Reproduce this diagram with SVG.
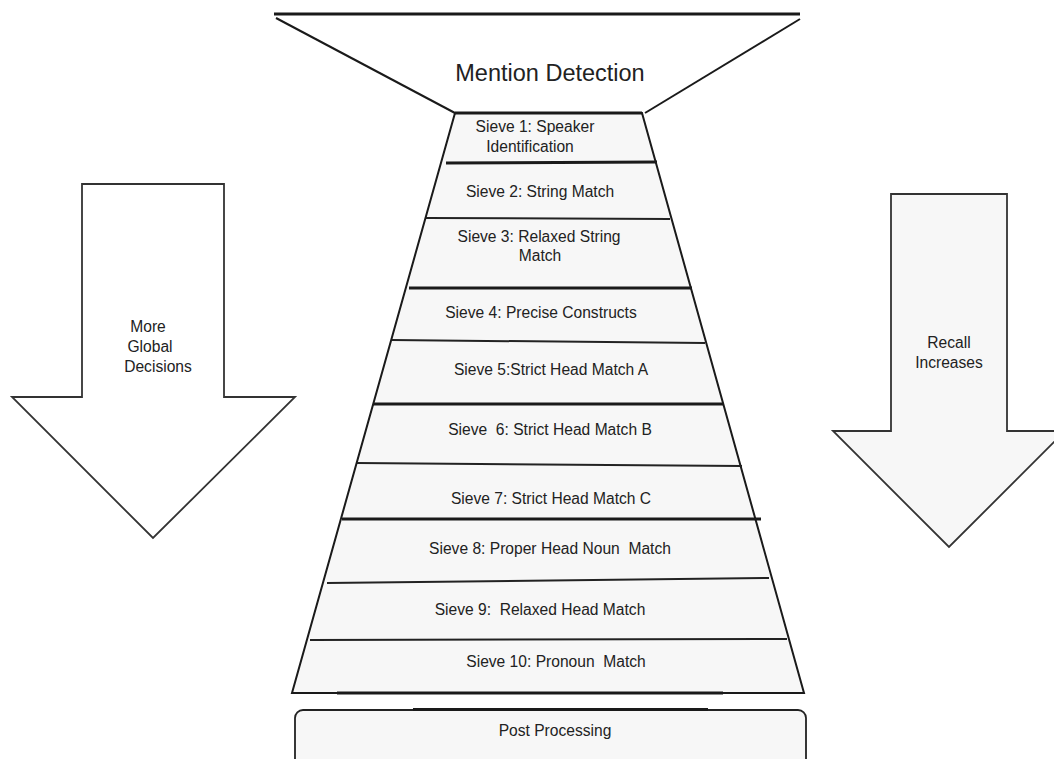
<svg xmlns="http://www.w3.org/2000/svg" width="1054" height="759" viewBox="0 0 1054 759">
<style>
.t{font-family:"Liberation Sans",Arial,sans-serif;font-size:15.6px;fill:#222;text-anchor:middle}
.thick{stroke:#1a1a1a;stroke-width:3;fill:none}
.thin{stroke:#222;stroke-width:2;fill:none}
.edge{stroke:#1a1a1a;stroke-width:2;fill:none}
.arr{stroke:#333;stroke-width:1.8;stroke-linejoin:miter}
</style>
<rect width="1054" height="759" fill="#fff"/>
<g id="funnel">
<line x1="274" y1="14" x2="800" y2="14" class="thick"/>
<line x1="276" y1="18" x2="455" y2="113" class="edge"/>
<line x1="645" y1="113" x2="800" y2="19" class="edge"/>
<text x="550" y="81" class="t" style="font-size:23.5px">Mention Detection</text>
</g>
<g id="sieves">
<polygon points="455,113 642,113 804,693 292,693" fill="#f7f7f7" stroke="#1a1a1a" stroke-width="2"/>
<line x1="455" y1="113" x2="642" y2="113" class="thick"/>
<line x1="337" y1="693" x2="723" y2="693" class="thick"/>
<line x1="446" y1="163" x2="657" y2="162" class="thick"/>
<line x1="426" y1="218" x2="670" y2="219" class="thin"/>
<line x1="409" y1="288" x2="692" y2="288" class="thick"/>
<line x1="392" y1="340" x2="705" y2="343" class="thin"/>
<line x1="373" y1="404" x2="723" y2="404" class="thick"/>
<line x1="357" y1="463" x2="742" y2="466" class="thin"/>
<line x1="342" y1="519" x2="761" y2="519" class="thick"/>
<line x1="327" y1="583" x2="769" y2="578" class="thin"/>
<line x1="310" y1="640" x2="787" y2="639" class="thin"/>
</g>
<g id="sieve1"><text x="535" y="132" class="t">Sieve 1: Speaker</text><text x="530" y="152" class="t">Identification</text></g>
<g id="sieve2"><text x="540" y="197" class="t">Sieve 2: String Match</text></g>
<g id="sieve3"><text x="539" y="242" class="t">Sieve 3: Relaxed String</text><text x="540" y="261" class="t">Match</text></g>
<g id="sieve4"><text x="541" y="318" class="t">Sieve 4: Precise Constructs</text></g>
<g id="sieve5"><text x="551" y="375" class="t">Sieve 5:Strict Head Match A</text></g>
<g id="sieve6"><text x="550" y="435" class="t" xml:space="preserve">Sieve  6: Strict Head Match B</text></g>
<g id="sieve7"><text x="551" y="504" class="t">Sieve 7: Strict Head Match C</text></g>
<g id="sieve8"><text x="550" y="554" class="t" xml:space="preserve">Sieve 8: Proper Head Noun  Match</text></g>
<g id="sieve9"><text x="540" y="615" class="t" xml:space="preserve">Sieve 9:  Relaxed Head Match</text></g>
<g id="sieve10"><text x="556" y="667" class="t" xml:space="preserve">Sieve 10: Pronoun  Match</text></g>
<g id="post">
<rect x="295" y="710" width="511" height="62" rx="8" fill="#f7f7f7" stroke="#222" stroke-width="1.8"/>
<line x1="413" y1="709.5" x2="708" y2="709.5" class="thick"/>
<text x="555" y="736" class="t">Post Processing</text>
</g>
<g id="left-arrow">
<polygon points="82,184 224,184 224,397 295,397 153,538 12,397 82,397" fill="#fff" class="arr"/>
<text x="148" y="332" class="t">More</text>
<text x="150" y="352" class="t">Global</text>
<text x="158" y="372" class="t">Decisions</text>
</g>
<g id="right-arrow">
<polygon points="891,194 1007,194 1007,431 1065,431 949,547 833,431 891,431" fill="#f7f7f7" class="arr"/>
<text x="949" y="348" class="t">Recall</text>
<text x="949" y="368" class="t">Increases</text>
</g>
</svg>
